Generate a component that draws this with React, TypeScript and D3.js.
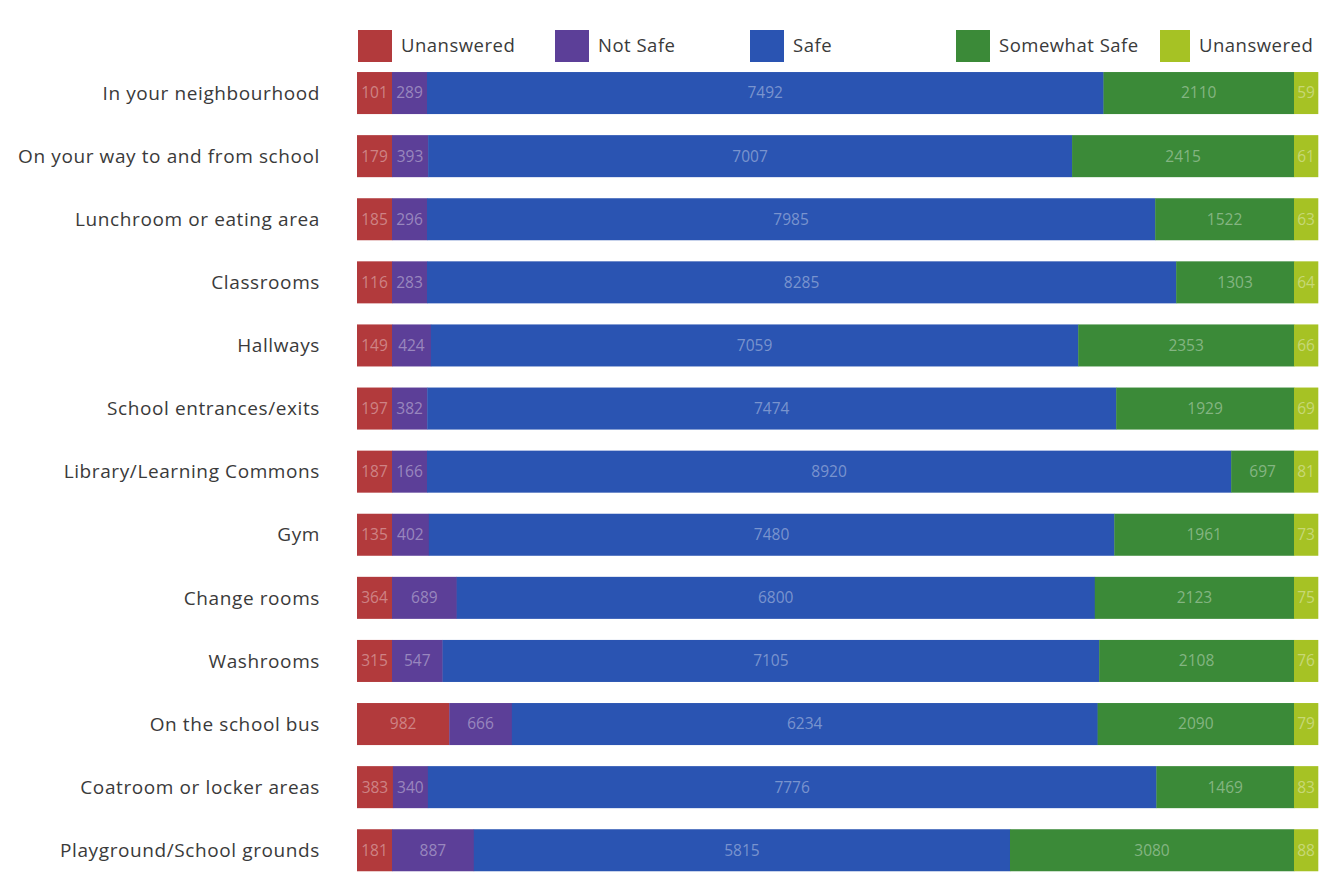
import React from "react";
import * as d3 from "d3";

const categories = [
  "In your neighbourhood",
  "On your way to and from school",
  "Lunchroom or eating area",
  "Classrooms",
  "Hallways",
  "School entrances/exits",
  "Library/Learning Commons",
  "Gym",
  "Change rooms",
  "Washrooms",
  "On the school bus",
  "Coatroom or locker areas",
  "Playground/School grounds",
];

const seriesNames = ["Unanswered", "Not Safe", "Safe", "Somewhat Safe", "Unanswered"];
const seriesKeys = ["unanswered1", "notSafe", "safe", "somewhatSafe", "unanswered2"];
const seriesColors = ["#b23a3c", "#5c3f98", "#2a54b2", "#3b8a38", "#a6c224"];

const unanswered1 = [101, 179, 185, 116, 149, 197, 187, 135, 364, 315, 982, 383, 181];
const notSafe = [289, 393, 296, 283, 424, 382, 166, 402, 689, 547, 666, 340, 887];
const safe = [7492, 7007, 7985, 8285, 7059, 7474, 8920, 7480, 6800, 7105, 6234, 7776, 5815];
const somewhatSafe = [2110, 2415, 1522, 1303, 2353, 1929, 697, 1961, 2123, 2108, 2090, 1469, 3080];
const unanswered2 = [59, 61, 63, 64, 66, 69, 81, 73, 75, 76, 79, 83, 88];

const seriesValues = [unanswered1, notSafe, safe, somewhatSafe, unanswered2];
const minWidths = [35, 35, 0, 0, 24];

const W = 1331;
const H = 896;
const barLeft = 357;
const barRight = 1318;

// solve widths with minimum widths so row fills [barLeft, barRight]
function rowWidths(vals: number[], total: number): number[] {
  let fixed = vals.map(() => false);
  let widths: number[] = [];
  for (let iter = 0; iter < 6; iter++) {
    const fixedW = vals.reduce((s, v, i) => s + (fixed[i] ? minWidths[i] : 0), 0);
    const freeSum = vals.reduce((s, v, i) => s + (fixed[i] ? 0 : v), 0);
    const x = d3.scaleLinear().domain([0, freeSum]).range([0, total - fixedW]);
    widths = vals.map((v, i) => (fixed[i] ? minWidths[i] : x(v)));
    let changed = false;
    widths.forEach((w, i) => {
      if (!fixed[i] && w < minWidths[i]) {
        fixed[i] = true;
        changed = true;
      }
    });
    if (!changed) break;
  }
  return widths;
}

export default function App() {
  const y = d3
    .scaleBand<string>()
    .domain(categories)
    .range([61.5, 881.8])
    .paddingInner(0.334)
    .paddingOuter(0.167);

  const legendX = [358, 555, 750, 956, 1160];
  const legendSq = [34, 34, 34, 34, 30];

  return (
    <svg
      width={W}
      height={H}
      style={{ position: "absolute", left: 0, top: 0, background: "#ffffff" }}
      fontFamily="'Open Sans', 'Segoe UI', sans-serif"
    >
      <defs>
        {categories.map((c, r) => (
          <clipPath id={`clip${r}`} key={c}>
            <rect x={barLeft} y={y(c)!} width={barRight - barLeft} height={y.bandwidth()} />
          </clipPath>
        ))}
      </defs>

      {/* legend */}
      <g>
        {seriesNames.map((n, i) => (
          <g key={seriesKeys[i]}>
            <rect x={legendX[i]} y={30} width={legendSq[i]} height={32} fill={seriesColors[i]} />
            <text
              x={legendX[i] + legendSq[i] + 9}
              y={52}
              fontSize={18.5}
              letterSpacing={0.5}
              fill="#3a3a3a"
            >
              {n}
            </text>
          </g>
        ))}
      </g>

      {/* category labels */}
      {categories.map((c) => (
        <text
          key={c}
          x={320}
          y={y(c)! + y.bandwidth() / 2}
          dy="0.35em"
          textAnchor="end"
          fontSize={19}
          letterSpacing={0.6}
          fill="#3a3a3a"
        >
          {c}
        </text>
      ))}

      {/* bars */}
      {categories.map((c, r) => {
        const vals = seriesValues.map((s) => s[r]);
        const widths = rowWidths(vals, barRight - barLeft);
        let acc = barLeft;
        const segs = widths.map((w, i) => {
          const x0 = acc;
          acc += w;
          return { x0, w, i, v: vals[i] };
        });
        const y0 = y(c)!;
        const bh = y.bandwidth();
        return (
          <g key={c}>
            {segs.map((s) => (
              <rect
                key={s.i}
                x={s.x0}
                y={y0}
                width={s.w + 0.3}
                height={bh}
                fill={seriesColors[s.i]}
              />
            ))}
            <g clipPath={`url(#clip${r})`}>
              {segs.map((s) => (
                <text
                  key={s.i}
                  x={s.x0 + s.w / 2}
                  y={y0 + bh / 2}
                  dy="0.35em"
                  textAnchor="middle"
                  fontSize={15.5}
                  fill="#ffffff"
                  fillOpacity={0.38}
                >
                  {s.v}
                </text>
              ))}
            </g>
          </g>
        );
      })}
    </svg>
  );
}
